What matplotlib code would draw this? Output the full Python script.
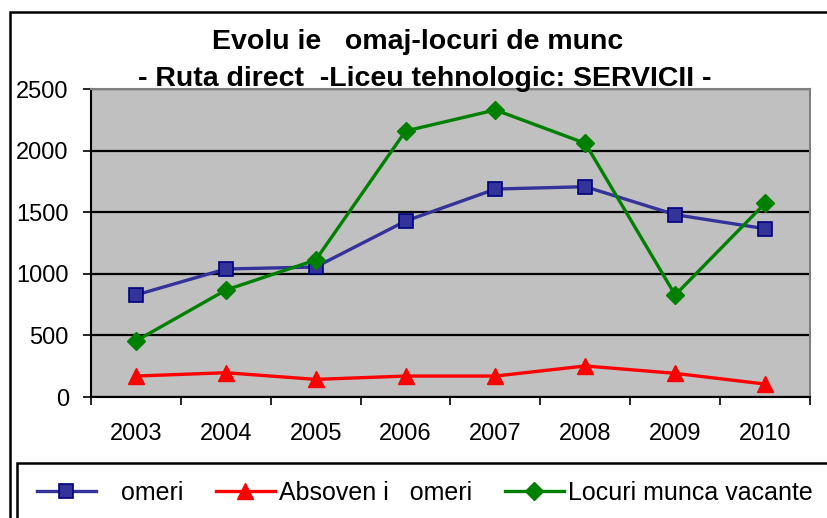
import matplotlib
matplotlib.use("Agg")
import matplotlib.pyplot as plt
from matplotlib.patches import Rectangle

# datele graficului
ani = ['2003', '2004', '2005', '2006', '2007', '2008', '2009', '2010']
someri = [828, 1039, 1055, 1428, 1688, 1707, 1480, 1366]
absolventi_someri = [170, 197, 143, 170, 170, 252, 192, 105]
locuri_vacante = [455, 868, 1112, 2159, 2330, 2059, 828, 1572]

titlu_1 = 'Evolu ie   omaj-locuri de munc'
titlu_2 = '- Ruta direct  -Liceu tehnologic: SERVICII -'
etichete = ['   omeri', 'Absoven i   omeri', 'Locuri munca vacante']

plt.rcParams['font.family'] = ['Liberation Sans', 'DejaVu Sans']

fig = plt.figure(figsize=(8.28, 5.18), dpi=100)
ax = fig.add_axes([91 / 828, 121 / 518, 719 / 828, 308 / 518])
ax.set_facecolor('#C0C0C0')

x = list(range(len(ani)))
ax.plot(x, someri, color='#333399', lw=2.4, marker='s', ms=10,
        mfc='#333399', mec='#000080', mew=1.2, label=etichete[0], zorder=3)
ax.plot(x, absolventi_someri, color='#FF0000', lw=2.4, marker='^', ms=12,
        mfc='#FF0000', mec='#FF0000', label=etichete[1], zorder=3)
ax.plot(x, locuri_vacante, color='#008000', lw=2.4, marker='D', ms=9,
        mfc='#008000', mec='#008000', label=etichete[2], zorder=3)

ax.set_xlim(-0.5, len(ani) - 0.5)
ax.set_ylim(0, 2500)
ax.set_yticks(range(0, 2501, 500))
ax.yaxis.grid(True, color='black', lw=1.6)
ax.set_axisbelow(True)

ax.set_xticks([i - 0.5 for i in range(len(ani) + 1)])
ax.set_xticklabels([])
ax.set_xticks(x, minor=True)
ax.set_xticklabels(ani, minor=True)
ax.tick_params(axis='x', which='minor', length=0, labelsize=17, pad=19)
ax.tick_params(axis='x', which='major', length=6, width=1.2, direction='out')
ax.tick_params(axis='y', length=6, width=1.2, direction='out', labelsize=17, pad=10)

for s in ['left', 'bottom']:
    ax.spines[s].set_color('black')
    ax.spines[s].set_linewidth(1.5)
for s in ['top', 'right']:
    ax.spines[s].set_color('#808080')
    ax.spines[s].set_linewidth(1.5)

fig.text(418 / 828, 1 - 42 / 518, titlu_1, ha='center', va='center',
         fontsize=20.5, fontweight='bold')
fig.text(425 / 828, 1 - 79 / 518, titlu_2, ha='center', va='center',
         fontsize=20.5, fontweight='bold')

# chenar exterior si chenar legenda
fig.patches.append(Rectangle((10 / 828, -0.05), 0.99, 1 - 12 / 518 + 0.05,
                             transform=fig.transFigure, fill=False,
                             ec='black', lw=1.8))
fig.patches.append(Rectangle((17 / 828, -0.05), 0.99, (518 - 463) / 518 + 0.05,
                             transform=fig.transFigure, fill=False,
                             ec='black', lw=1.8))

fig.legend(loc='center left', bbox_to_anchor=(37 / 828, 1 - 493 / 518),
           ncol=3, frameon=False, fontsize=18, handlelength=2.36,
           handletextpad=0.16, columnspacing=1.3, borderpad=0,
           borderaxespad=0)

fig.savefig('out.png', dpi=100)
